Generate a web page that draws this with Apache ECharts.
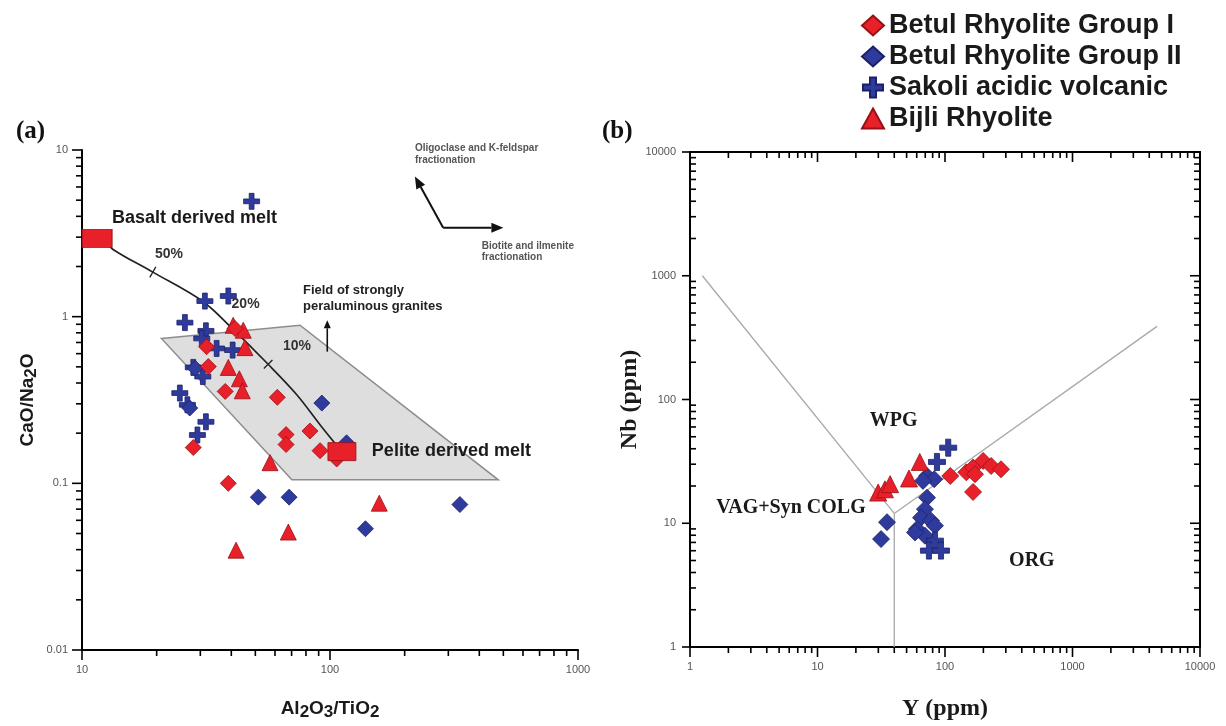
<!DOCTYPE html>
<html><head><meta charset="utf-8">
<script src="https://cdn.jsdelivr.net/npm/echarts@6/dist/echarts.min.js"></script>
<style>html,body{margin:0;padding:0;background:#fff}#c{width:1226px;height:726px}</style>
</head><body><div id="c"></div>
<script>
// ---------- DATA : panel (a)  Al2O3/TiO2 vs CaO/Na2O ----------
const groupI_a  = [[41.4,0.849],[31.8,0.66],[32.3,0.502],[37.8,0.356],[61.3,0.328],[83.0,0.206],[66.5,0.196],[66.5,0.171],[91.2,0.157],[106.4,0.140],[28.1,0.164],[38.9,0.100]];
const groupII_a = [[92.7,0.303],[116.6,0.175],[51.4,0.0826],[68.4,0.0826],[139,0.0534],[334,0.0746],[28.6,0.49],[27.2,0.283]];
const sakoli_a  = [[48.3,4.92],[31.3,1.24],[38.9,1.33],[26.0,0.921],[31.6,0.822],[30.4,0.740],[34.9,0.645],[40.5,0.630],[28.1,0.496],[30.7,0.437],[24.8,0.348],[26.6,0.296],[31.6,0.234],[29.2,0.195]];
const bijli_a   = [[40.7,0.887],[44.7,0.829],[45.4,0.652],[38.9,0.496],[43.1,0.424],[44.3,0.359],[57.3,0.133],[158,0.076],[67.9,0.051],[41.8,0.0397]];
const basaltMelt = [[11.5,2.95]];
const peliteMelt = [[111.7,0.155]];
const mixingCurve = [[12.5,2.85],[13.3,2.54],[19.3,1.85],[30.8,1.23],[40.3,0.85],[56.3,0.518],[73.6,0.339],[91.3,0.224],[106.7,0.168]];
const curveTickIdx = [2,5];
const fieldPoly = [[20.9,0.74],[75.7,0.888],[477,0.105],[70.2,0.105]];
const arrowsA = [[[97.5,0.617],[97.5,0.951]],[[286,3.42],[220,6.93]],[[286,3.42],[500,3.42]]];
const labelsA = ['Basalt derived melt','Pelite derived melt','50%','20%','10%','Field of strongly','peraluminous granites','Oligoclase and K-feldspar','fractionation','Biotite and ilmenite','fractionation'];
const labelAnchorA = [[13.2,3.88],[147.5,0.157],[19.7,2.37],[40.1,1.195],[64.6,0.663],[77.8,1.43],[77.8,1.15],[220,10.24],[220,8.63],[409,2.66],[409,2.26]];

// ---------- DATA : panel (b)  Y vs Nb ----------
const groupI_b  = [[110,24.1],[147,25.8],[166,28.2],[199,31.9],[230,29.0],[275,27.3],[172,24.9],[166,17.9]];
const groupII_b = [[72.3,24.1],[82.3,22.7],[67.2,22.0],[72.3,16.1],[69.6,13.0],[64.8,11.1],[77.6,10.5],[60.3,8.98],[83.4,9.55],[69.6,7.93],[58.2,8.43],[35.1,10.2],[31.5,7.45]];
const sakoli_b  = [[106,40.8],[86.5,31.3],[83.4,7.23],[74.8,6.01],[93,6.01]];
const bijli_b   = [[29.9,17.7],[33.8,18.8],[37.1,20.7],[52.2,23.0],[63.4,31.3]];
const lineVagWpg = [[1.25,1000],[40,12]];
const lineVagOrg = [[40,1],[40,12]];
const lineWpgOrg = [[40,12],[4600,390]];
const labelsB = ['WPG','VAG+Syn COLG','ORG'];
const labelAnchorB = [[39.5,67],[6.2,13.3],[480,5]];

// ---------- AXES ----------
const xRangeA=[10,1000], yRangeA=[0.01,10], xRangeB=[1,10000], yRangeB=[1,10000];
const majorA_x=[10,100,1000], majorA_y=[0.01,0.1,1,10], majorB=[1,10,100,1000,10000];
const legendNames=['Betul Rhyolite Group I','Betul Rhyolite Group II','Sakoli acidic volcanic','Bijli Rhyolite'];

// ---------- STYLE ----------
const RED='#e8202a', BLUE='#2f3b9c', DRED='#9a0f14', DBLUE='#1b2168';
const PLUS='path://M7,0H13V7H20V13H13V20H7V13H0V7H7Z';
const SANS='"Liberation Sans", Arial, sans-serif';
const SERIF='"Liberation Serif", "Times New Roman", serif';

function minors(lo,hi){const o=[];const e0=Math.round(Math.log10(lo)),e1=Math.round(Math.log10(hi));
  for(let e=e0;e<e1;e++){for(let k=2;k<=9;k++)o.push(Number((k*Math.pow(10,e)).toPrecision(3)));}return o;}
function fmt(v){return String(Number(v.toPrecision(4)));}

function tickSeries(gi,axis,edge,values,dir,len){
  return {type:'custom',xAxisIndex:gi,yAxisIndex:gi,silent:true,z:6,clip:false,
    data:values.map(v=>axis==='x'?[v,edge]:[edge,v]),
    renderItem:(p,api)=>{const c=api.coord([api.value(0),api.value(1)]);
      return {type:'line',shape:{x1:c[0],y1:c[1],x2:c[0]+dir[0]*len,y2:c[1]+dir[1]*len},style:{stroke:'#000',lineWidth:1.6}};}};
}
function sc(name,gi,data,symbol,color,size,z){
  return {name,type:'scatter',xAxisIndex:gi,yAxisIndex:gi,data,symbol,symbolSize:size,z:z||4,
    itemStyle:{color,borderColor:color===RED?DRED:DBLUE,borderWidth:0.8,opacity:1}};
}
function textSeries(gi,labels,anchors,styleFn){
  return {type:'custom',xAxisIndex:gi,yAxisIndex:gi,silent:true,z:8,clip:false,
    data:anchors,
    renderItem:(p,api)=>{const c=api.coord([api.value(0),api.value(1)]);const s=styleFn(p.dataIndex);
      return {type:'text',x:c[0],y:c[1],style:{text:labels[p.dataIndex],fill:s.fill,font:s.font,align:s.align,verticalAlign:'middle'}};}};
}
function styleA(i){
  if(i<2) return {font:'bold 18px '+SANS,fill:'#1a1a1a',align:'left'};
  if(i<5) return {font:'bold 14px '+SANS,fill:'#333',align:'left'};
  if(i<7) return {font:'bold 13px '+SANS,fill:'#222',align:'left'};
  return {font:'bold 10px '+SANS,fill:'#555',align:'left'};
}
function styleB(i){return {font:'bold 20px '+SERIF,fill:'#1a1a1a',align:'center'};}
const squareStyle={color:RED,borderColor:DRED,borderWidth:0.8,opacity:1};

const series=[
  // field of strongly peraluminous granites
  {type:'custom',xAxisIndex:0,yAxisIndex:0,silent:true,z:1,clip:false,data:fieldPoly,
   renderItem:(p,api)=>{if(p.dataIndex!==0)return null;
     return {type:'polygon',shape:{points:fieldPoly.map(v=>api.coord(v))},style:{fill:'#dedede',stroke:'#8c8c8c',lineWidth:1.5}};}},
  // mixing curve
  {type:'line',xAxisIndex:0,yAxisIndex:0,data:mixingCurve,smooth:0.35,symbol:'none',silent:true,z:3,
   lineStyle:{color:'#222',width:1.7}},
  {type:'custom',xAxisIndex:0,yAxisIndex:0,silent:true,z:3,clip:false,data:curveTickIdx.map(i=>mixingCurve[i]),
   renderItem:(p,api)=>{const i=curveTickIdx[p.dataIndex];const c=api.coord(mixingCurve[i]);
     const a=api.coord(mixingCurve[i-1]),b=api.coord(mixingCurve[i+1]);let dx=b[0]-a[0],dy=b[1]-a[1];const L=Math.hypot(dx,dy);dx/=L;dy/=L;
     return {type:'line',shape:{x1:c[0]-dy*6,y1:c[1]+dx*6,x2:c[0]+dy*6,y2:c[1]-dx*6},style:{stroke:'#222',lineWidth:1.3}};}},
  // arrows
  {type:'custom',xAxisIndex:0,yAxisIndex:0,silent:true,z:7,clip:false,data:arrowsA.map(a=>a[0]),
   renderItem:(p,api)=>{const ar=arrowsA[p.dataIndex];const p0=api.coord(ar[0]),p1=api.coord(ar[1]);
     let dx=p1[0]-p0[0],dy=p1[1]-p0[1];const L=Math.hypot(dx,dy);dx/=L;dy/=L;
     const hl=p.dataIndex===0?8:12,hw=p.dataIndex===0?7:10;const bx=p1[0]-dx*hl,by=p1[1]-dy*hl;
     return {type:'group',children:[
       {type:'line',shape:{x1:p0[0],y1:p0[1],x2:bx,y2:by},style:{stroke:'#111',lineWidth:p.dataIndex===0?1.6:2}},
       {type:'polygon',shape:{points:[[p1[0],p1[1]],[bx-dy*hw/2,by+dx*hw/2],[bx+dy*hw/2,by-dx*hw/2]]},style:{fill:'#111'}}]};}},
  sc(legendNames[2],0,sakoli_a,PLUS,BLUE,16),
  sc(legendNames[1],0,groupII_a,'diamond',BLUE,16),
  sc(legendNames[3],0,bijli_a,'triangle',RED,16),
  sc(legendNames[0],0,groupI_a,'diamond',RED,16),
  {type:'scatter',xAxisIndex:0,yAxisIndex:0,data:basaltMelt,symbol:'rect',symbolSize:[30,18],z:5,silent:true,itemStyle:squareStyle},
  {type:'scatter',xAxisIndex:0,yAxisIndex:0,data:peliteMelt,symbol:'rect',symbolSize:[28,18],z:5,silent:true,itemStyle:squareStyle},
  textSeries(0,labelsA,labelAnchorA,styleA),
  // panel a ticks
  tickSeries(0,'x',yRangeA[0],majorA_x,[0,1],10),
  tickSeries(0,'x',yRangeA[0],minors(xRangeA[0],xRangeA[1]),[0,1],6),
  tickSeries(0,'y',xRangeA[0],majorA_y,[-1,0],10),
  tickSeries(0,'y',xRangeA[0],minors(yRangeA[0],yRangeA[1]),[-1,0],6),
  // panel b
  ...[lineVagWpg,lineVagOrg,lineWpgOrg].map(d=>({type:'line',xAxisIndex:1,yAxisIndex:1,data:d,symbol:'none',silent:true,z:2,lineStyle:{color:'#a8a8a8',width:1.3}})),
  sc(legendNames[1],1,groupII_b,'diamond',BLUE,17),
  sc(legendNames[2],1,sakoli_b,PLUS,BLUE,17),
  sc(legendNames[3],1,bijli_b,'triangle',RED,17),
  sc(legendNames[0],1,groupI_b,'diamond',RED,17),
  textSeries(1,labelsB,labelAnchorB,styleB),
  tickSeries(1,'x',yRangeB[0],majorB,[0,1],10),
  tickSeries(1,'x',yRangeB[0],minors(xRangeB[0],xRangeB[1]),[0,1],6),
  tickSeries(1,'x',yRangeB[1],majorB,[0,1],10),
  tickSeries(1,'x',yRangeB[1],minors(xRangeB[0],xRangeB[1]),[0,1],6),
  tickSeries(1,'y',xRangeB[0],majorB,[-1,0],8),
  tickSeries(1,'y',xRangeB[0],minors(yRangeB[0],yRangeB[1]),[1,0],6),
  tickSeries(1,'y',xRangeB[1],majorB,[-1,0],10),
  tickSeries(1,'y',xRangeB[1],minors(yRangeB[0],yRangeB[1]),[-1,0],6)
];

const labelA={color:'#555',fontSize:11,fontFamily:SANS,formatter:fmt};
const chart=echarts.init(document.getElementById('c'));
chart.setOption({
  animation:false,
  backgroundColor:'#fff',
  title:[
    {text:'(a)',left:11,top:114,textStyle:{fontFamily:SERIF,fontSize:25,fontWeight:'bold',color:'#111'}},
    {text:'(b)',left:597,top:114,textStyle:{fontFamily:SERIF,fontSize:25,fontWeight:'bold',color:'#111'}}
  ],
  legend:{data:legendNames,orient:'vertical',left:856,top:7,itemGap:4,itemWidth:22,itemHeight:20,
    textStyle:{fontSize:27,lineHeight:27,fontWeight:'bold',fontFamily:SANS,color:'#1a1a1a'}},
  grid:[
    {left:82,top:150,width:496,height:504},
    {left:690,top:152,width:510,height:496,show:true,borderColor:'#000',borderWidth:2,backgroundColor:'transparent'}
  ],
  xAxis:[
    {gridIndex:0,type:'log',logBase:10,min:xRangeA[0],max:xRangeA[1],
     axisLine:{show:true,onZero:false,lineStyle:{color:'#000',width:2}},axisTick:{show:false},splitLine:{show:false},
     axisLabel:Object.assign({margin:14},labelA),
     name:'Al{s|2}O{s|3}/TiO{s|2}',nameLocation:'middle',nameGap:46,
     nameTextStyle:{fontSize:19,fontWeight:'bold',fontFamily:SANS,color:'#1a1a1a',rich:{s:{fontSize:17,fontWeight:'bold',fontFamily:SANS,color:'#1a1a1a',padding:[8,0,0,0]}}}},
    {gridIndex:1,type:'log',logBase:10,min:xRangeB[0],max:xRangeB[1],
     axisLine:{show:false},axisTick:{show:false},splitLine:{show:false},
     axisLabel:Object.assign({margin:14},labelA),
     name:'Y (ppm)',nameLocation:'middle',nameGap:50,
     nameTextStyle:{fontSize:24,fontWeight:'bold',fontFamily:SERIF,color:'#1a1a1a'}}
  ],
  yAxis:[
    {gridIndex:0,type:'log',logBase:10,min:yRangeA[0],max:yRangeA[1],
     axisLine:{show:true,onZero:false,lineStyle:{color:'#000',width:2}},axisTick:{show:false},splitLine:{show:false},
     axisLabel:Object.assign({margin:14},labelA),
     name:'CaO/Na{s|2}O',nameLocation:'middle',nameGap:42,
     nameTextStyle:{fontSize:19,fontWeight:'bold',fontFamily:SANS,color:'#1a1a1a',rich:{s:{fontSize:17,fontWeight:'bold',fontFamily:SANS,color:'#1a1a1a',padding:[7,0,0,0]}}}},
    {gridIndex:1,type:'log',logBase:10,min:yRangeB[0],max:yRangeB[1],
     axisLine:{show:false},axisTick:{show:false},splitLine:{show:false},
     axisLabel:Object.assign({margin:14},labelA),
     name:'Nb (ppm)',nameLocation:'middle',nameGap:34,
     nameTextStyle:{fontSize:24,fontWeight:'bold',fontFamily:SERIF,color:'#1a1a1a'}}
  ],
  series
});
</script>
</body></html>
